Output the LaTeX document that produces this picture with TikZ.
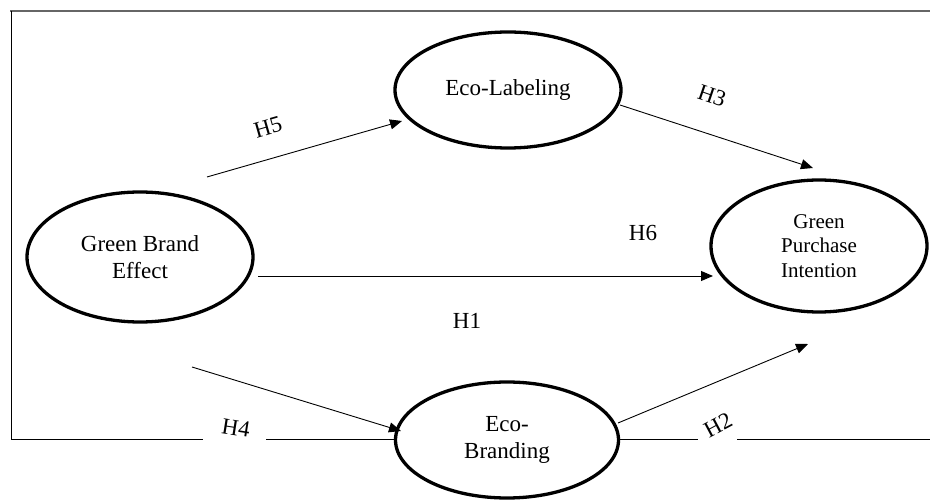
\documentclass[tikz,border=0pt]{standalone}
\usepackage{fontspec}
\setmainfont{Liberation Serif}
\usetikzlibrary{shapes.geometric,arrows.meta}
\begin{document}
\begin{tikzpicture}[x=1pt,y=-1pt,
  construct/.style={ellipse,draw=black,line width=3.3pt,fill=white,inner sep=0pt,align=center,
    font=\fontsize{23}{27}\selectfont},
  path/.style={line width=0.9pt,-{Triangle[length=12pt,width=10pt]}},
  hyp/.style={font=\fontsize{23}{26}\selectfont,inner sep=1pt},
  frametop/.style={line width=2pt,draw=black!60},
  frameline/.style={line width=1pt,draw=black}]
\useasboundingbox (0,0) rectangle (930,502);
% frame
\coordinate (tl) at (10,11);
\coordinate (tr) at (930,11);
\coordinate (bl) at (11,440);
\coordinate (ltop) at (11,11);
\coordinate (g4a) at (203,440);
\coordinate (g4b) at (266,440);
\coordinate (g2a) at (698,440);
\coordinate (g2b) at (737,440);
\coordinate (br) at (930,440);
\draw[frametop] (tl) -- (tr);
\draw[frameline] (ltop) -- (bl) -- (g4a);
% nodes
\node[construct,minimum width=226pt,minimum height=130pt] (gbe) at (140,257) {Green Brand\\Effect};
\node[construct,minimum width=226pt,minimum height=116pt] (el) at (508,90) {Eco-Labeling};
\node[construct,minimum width=216pt,minimum height=132pt,font=\fontsize{21}{24.5}\selectfont] (gpi) at (819,246) {Green\\Purchase\\Intention};
\node[construct,minimum width=223pt,minimum height=116pt] (eb) at (507,440) {Eco-\\Branding};
\draw[frameline] (g4b) -- (eb.west) (eb.east) -- (g2a) (g2b) -- (br);
% path endpoints
\coordinate (h5s) at (207,177);
\coordinate (h5e) at (402,121);
\coordinate (h3s) at (620,105);
\coordinate (h3e) at (813,168);
\coordinate (h1s) at (258,276);
\coordinate (h1e) at (713,276);
\coordinate (h4s) at (192,367);
\coordinate (h4e) at (401,431);
\coordinate (h2s) at (618,423);
\coordinate (h2e) at (808,344);
\draw[path] (h5s) -- (h5e);
\draw[path] (h3s) -- (h3e);
\draw[path] (h1s) -- (h1e);
\draw[path] (h4s) -- (h4e);
\draw[path] (h2s) -- (h2e);
% labels
\node[hyp,rotate=16] (l5) at (268,127) {H5};
\node[hyp,rotate=-19] (l3) at (712,96) {H3};
\node[hyp] (l6) at (643,233) {H6};
\node[hyp] (l1) at (467,321) {H1};
\node[hyp,rotate=-9] (l4) at (236,428) {H4};
\node[hyp,rotate=28] (l2) at (718,425) {H2};
\end{tikzpicture}
\end{document}
